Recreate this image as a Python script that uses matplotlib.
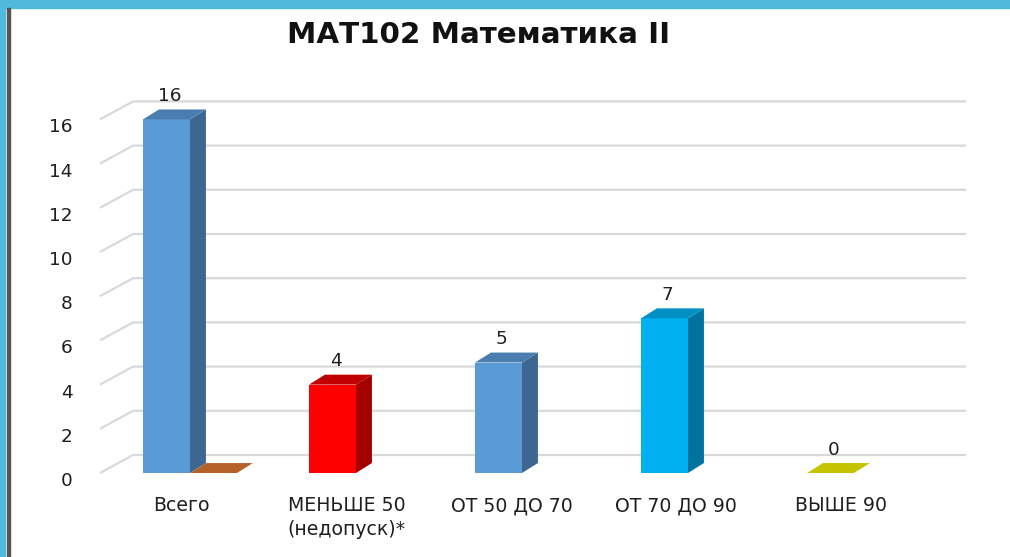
import matplotlib
matplotlib.use("Agg")
import matplotlib.pyplot as plt
from matplotlib.patches import Rectangle

plt.rcParams['font.family'] = ['DejaVu Sans']

title = 'МАТ102 Математика II'
categories = ['Всего', 'МЕНЬШЕ 50\n(недопуск)*', 'ОТ 50 ДО 70', 'ОТ 70 ДО 90', 'ВЫШЕ 90']
series1 = [16, 4, 5, 7, 0]
series2 = [0, None, None, None, None]
yticks = [0, 2, 4, 6, 8, 10, 12, 14, 16]

# front / side / top colours for each bar of series 1
front_cols = ['#5b9bd5', '#ff0000', '#5b9bd5', '#00b0f0', '#c4c400']
side_cols = ['#3d6790', '#a50000', '#3d6790', '#00739f', '#9a9a00']
top_cols = ['#4a7db0', '#c00000', '#4a7db0', '#0090c4', '#c4c400']
s2_front, s2_side, s2_top = '#c0602a', '#8a4015', '#b5612a'

# geometry in data units (1 x-unit = one category, 1 y-unit = one value)
w = 0.283          # bar width
ddx, ddy = 0.096, 0.45   # bar depth
wdx, wdy = 0.199, 0.815  # back wall depth
x_left, x_right = -0.542, 4.675

fig = plt.figure(figsize=(10.1, 5.57), dpi=100)
ax = fig.add_axes([0, 0, 1, 1])
ax.set_xlim(-190 / 166, (1010 - 190) / 166)
ax.set_ylim((473 - 557) / 22.1, 473 / 22.1)
ax.axis('off')

# gridlines: diagonal on the left side, horizontal on the back wall
for v in yticks:
    ax.plot([x_left, x_left + wdx, x_right], [v, v + wdy, v + wdy],
            color='#d9d9d9', lw=1.6, zorder=1, solid_capstyle='butt')
    ax.text(x_left - 0.165, v - 0.36, str(v), ha='right', va='center',
            fontsize=13.3, color='#1e1e1e')


def box(x0, h, fc, sc, tc):
    x1 = x0 + w
    if h > 0:
        ax.fill([x0, x1, x1, x0], [0, 0, h, h], color=fc, zorder=3, lw=0)
        ax.fill([x1, x1 + ddx, x1 + ddx, x1], [0, ddy, h + ddy, h],
                color=sc, zorder=3, lw=0)
    ax.fill([x0, x1, x1 + ddx, x0 + ddx], [h, h, h + ddy, h + ddy],
            color=tc, zorder=3, lw=0)


for i, v in enumerate(series1):
    box(i - w, v, front_cols[i], side_cols[i], top_cols[i])
    ax.text(i - w / 2 + 0.02, v + 1.05, str(v), ha='center', va='center',
            fontsize=13.3, color='#1e1e1e', zorder=4)

for i, v in enumerate(series2):
    if v is not None:
        box(i, v, s2_front, s2_side, s2_top)

for i, c in enumerate(categories):
    ax.text(i * 0.993 - 0.05, -1.05, c, ha='center', va='top', fontsize=13.6,
            color='#1e1e1e', linespacing=1.3)

fig.text(0.4735, 0.937, title, ha='center', va='center', fontsize=21.2,
         fontweight='bold', color='#111111')

# frame decoration
fig.patches.append(Rectangle((0, 1 - 8 / 557), 1, 8 / 557, transform=fig.transFigure,
                             color='#4fbadc', zorder=5))
fig.patches.append(Rectangle((0, 0), 5 / 1010, 1, transform=fig.transFigure,
                             color='#4fbadc', zorder=5))
fig.patches.append(Rectangle((7 / 1010, 0), 2.5 / 1010, 1 - 8 / 557,
                             transform=fig.transFigure, color='#555555', zorder=5))

fig.savefig('out.png', dpi=100)
